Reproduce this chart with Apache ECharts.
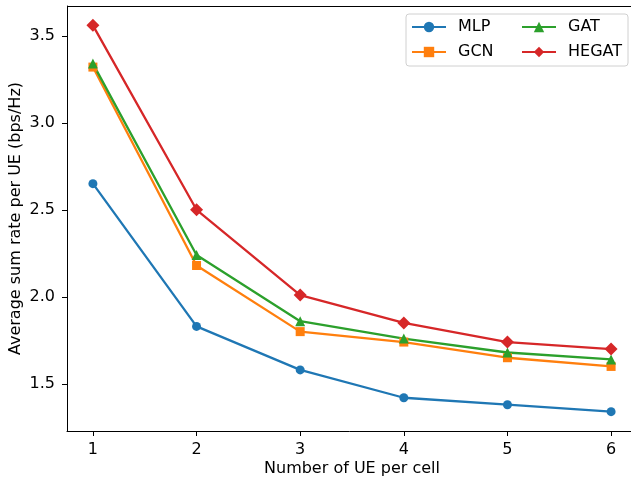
<!DOCTYPE html>
<html>
<head>
<meta charset="utf-8">
<script src="https://cdn.jsdelivr.net/npm/echarts@6/dist/echarts.min.js"></script>
<style>
  html, body { margin: 0; padding: 0; background: #fff; }
  #chart { width: 631px; height: 481px; }
</style>
</head>
<body>
<div id="chart"></div>
<script>
// number of UE per cell
const ueCounts = [1, 2, 3, 4, 5, 6]
const xTicks = [1, 2, 3, 4, 5, 6]
const yTicks = [1.5, 2.0, 2.5, 3.0, 3.5]

// average sum rate per UE (bps/Hz)
const mlp = [2.65, 1.83, 1.58, 1.42, 1.38, 1.34]
const gcn = [3.32, 2.18, 1.80, 1.74, 1.65, 1.60]
const gat = [3.34, 2.24, 1.86, 1.76, 1.68, 1.64]
const hegat = [3.56, 2.50, 2.01, 1.85, 1.74, 1.70]

const font = 'DejaVu Sans'

function mkSeries(name, values, color, symbol, size) {
  return {
    name,
    type: 'line',
    data: ueCounts.map((x, i) => [x, values[i]]),
    symbol,
    symbolSize: size,
    lineStyle: { width: 2.3, color },
    itemStyle: { color },
    emphasis: { disabled: true },
  }
}

const chart = echarts.init(document.getElementById('chart'))

const legendCommon = {
  orient: 'vertical',
  top: 19,
  padding: 0,
  itemWidth: 34,
  itemHeight: 13,
  itemGap: 9,
  textStyle: { fontFamily: font, fontSize: 16, color: '#000', padding: [0, 0, 0, 7] },
}

chart.setOption({
  animation: false,
  grid: { left: 67, top: 6, width: 570, height: 425, outerBoundsMode: 'none', containLabel: false },
  xAxis: {
    type: 'value',
    min: 0.75,
    max: 6.25,
    name: 'Number of UE per cell',
    nameLocation: 'middle',
    nameGap: 30,
    nameMoveOverlap: false,
    nameTextStyle: { fontFamily: font, fontSize: 16, color: '#000' },
    axisLine: { show: true, onZero: false, lineStyle: { color: '#000', width: 1 } },
    axisTick: { show: true, length: 5, customValues: xTicks, lineStyle: { color: '#000' } },
    axisLabel: { customValues: xTicks, margin: 11, fontFamily: font, fontSize: 16, color: '#000' },
    splitLine: { show: false },
  },
  yAxis: {
    type: 'value',
    min: 1.229,
    max: 3.671,
    name: 'Average sum rate per UE (bps/Hz)',
    nameLocation: 'middle',
    nameGap: 43,
    nameMoveOverlap: false,
    nameTextStyle: { fontFamily: font, fontSize: 16, color: '#000' },
    axisLine: { show: true, onZero: false, lineStyle: { color: '#000', width: 1 } },
    axisTick: { show: true, length: 5, customValues: yTicks, lineStyle: { color: '#000' } },
    axisLabel: {
      customValues: yTicks, margin: 12, fontFamily: font, fontSize: 16, color: '#000',
      formatter: v => v.toFixed(1),
    },
    splitLine: { show: false },
  },
  graphic: [
    // top spine (right spine falls outside the figure)
    { type: 'line', shape: { x1: 67, y1: 6.5, x2: 631, y2: 6.5 }, style: { stroke: '#000', lineWidth: 1 } },
    // legend frame
    {
      type: 'rect', shape: { x: 406, y: 14, width: 222, height: 52, r: 3 },
      style: { fill: 'rgba(255,255,255,0.8)', stroke: '#d0d0d0', lineWidth: 1 }, z: 50,
    },
  ],
  legend: [
    Object.assign({ left: 411, data: ['MLP', 'GCN'], z: 60 }, legendCommon),
    Object.assign({ left: 521, data: ['GAT', 'HEGAT'], z: 60 }, legendCommon),
  ],
  series: [
    mkSeries('MLP', mlp, '#1f77b4', 'circle', 9),
    mkSeries('GCN', gcn, '#ff7f0e', 'rect', 9),
    mkSeries('GAT', gat, '#2ca02c', 'triangle', 10),
    mkSeries('HEGAT', hegat, '#d62728', 'diamond', 13),
  ],
})
</script>
</body>
</html>
